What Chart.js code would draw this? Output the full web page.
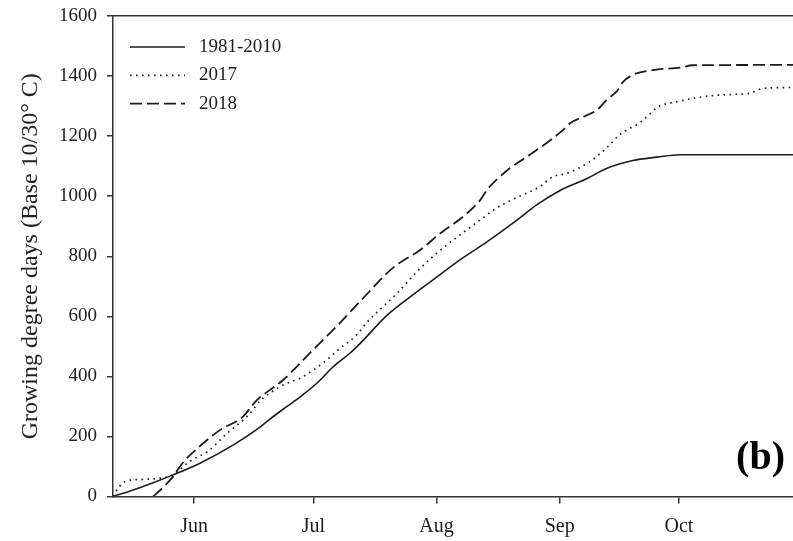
<!DOCTYPE html>
<html>
<head>
<meta charset="utf-8">
<script src="https://cdn.jsdelivr.net/npm/chart.js@4/dist/chart.umd.min.js"></script>
<style>
  html, body { margin: 0; padding: 0; background: #fff; }
  #wrap { width: 793px; height: 541px; position: relative; }
</style>
</head>
<body>
<div id="wrap"><canvas id="gdd" width="793" height="541"></canvas></div>
<script>
// Day of year (non-leap) and cumulative growing degree days for each series
const normalDays = [131.6, 136.7, 141.7, 146.7, 153.5, 161.8, 168.6, 171.1, 175.4, 178.7, 182.9, 187.0, 191.2, 193.8, 200.6, 206.3, 213.1, 218.9, 225.7, 232.3, 238.3, 244.1, 250.9, 255.9, 262.4, 268.5, 274.3, 302.7];
const normalGdd  = [0, 22, 46, 72, 111, 171, 231, 258, 300, 332, 377, 432, 477, 510, 604, 664, 731, 788, 848, 911, 972, 1019, 1059, 1093, 1119, 1130, 1138, 1138];

const days2017 = [131.6, 132.9, 135.1, 140.9, 145.2, 146.7, 151.0, 155.3, 160.3, 166.1, 168.6, 174.4, 178.7, 182.0, 185.4, 188.7, 192.9, 195.5, 203.1, 208.1, 212.1, 217.2, 224.0, 228.0, 232.3, 239.0, 242.3, 245.8, 251.6, 255.9, 259.2, 264.2, 266.0, 268.5, 274.3, 281.8, 287.6, 291.9, 295.2, 302.7];
const gdd2017  = [0, 28, 52, 58, 65, 72, 118, 149, 210, 277, 318, 371, 394, 421, 455, 493, 538, 580, 677, 749, 799, 854, 921, 960, 990, 1032, 1065, 1076, 1115, 1162, 1206, 1245, 1265, 1295, 1317, 1334, 1339, 1343, 1359, 1362];

const days2018 = [141.7, 144.2, 146.7, 149.0, 152.8, 158.5, 164.3, 167.8, 171.1, 174.4, 177.8, 181.9, 186.1, 188.2, 193.8, 202.1, 208.9, 213.9, 219.7, 224.0, 225.7, 230.7, 235.8, 240.8, 244.8, 246.6, 250.9, 253.4, 255.9, 258.4, 259.9, 262.4, 267.5, 274.3, 277.5, 302.7];
const gdd2018  = [0, 30, 66, 110, 160, 221, 266, 321, 355, 388, 432, 488, 543, 571, 650, 762, 821, 876, 932, 987, 1021, 1085, 1132, 1178, 1220, 1243, 1270, 1287, 1322, 1350, 1380, 1404, 1420, 1428, 1436, 1437];

// First day of each month shown on the x axis
const monthTickDays   = [152, 182, 213, 244, 274];
const monthTickLabels = ['Jun', 'Jul', 'Aug', 'Sep', 'Oct'];

const seriesLabels = ['1981-2010', '2017', '2018'];
const yTicks = [0, 200, 400, 600, 800, 1000, 1200, 1400, 1600];

const INK = '#1c1c1c';
const SERIF = '"Liberation Serif", "Times New Roman", serif';

const toPoints = (xs, ys) => xs.map((x, i) => ({ x: x, y: ys[i] }));

// In-plot legend: line samples stacked at the upper left of the plot
const insetLegend = {
  id: 'insetLegend',
  afterDatasetsDraw(chart) {
    const { ctx, chartArea } = chart;
    ctx.save();
    chart.data.datasets.forEach((ds, i) => {
      const y = chartArea.top + 31 + i * 28.3;
      const x0 = chartArea.left + 17;
      ctx.beginPath();
      ctx.setLineDash(ds.borderDash || []);
      ctx.strokeStyle = ds.borderColor;
      ctx.lineWidth = ds.borderWidth;
      ctx.moveTo(x0, y);
      ctx.lineTo(x0 + 55, y);
      ctx.stroke();
      ctx.setLineDash([]);
      ctx.fillStyle = INK;
      ctx.font = '19px ' + SERIF;
      ctx.textAlign = 'left';
      ctx.textBaseline = 'middle';
      ctx.fillText(ds.label, x0 + 69, y);
    });
    // panel letter
    ctx.font = 'bold 40px ' + SERIF;
    ctx.textAlign = 'right';
    ctx.textBaseline = 'middle';
    ctx.fillStyle = '#000';
    ctx.fillText('(b)', chartArea.right - 8, chartArea.bottom - 38);
    ctx.restore();
  }
};

new Chart(document.getElementById('gdd'), {
  type: 'line',
  data: {
    datasets: [
      {
        label: seriesLabels[0],
        data: toPoints(normalDays, normalGdd),
        borderColor: INK, borderWidth: 1.6, borderDash: [],
      },
      {
        label: seriesLabels[1],
        data: toPoints(days2017, gdd2017),
        borderColor: INK, borderWidth: 1.7, borderDash: [1.6, 4.4],
      },
      {
        label: seriesLabels[2],
        data: toPoints(days2018, gdd2018),
        borderColor: INK, borderWidth: 1.8, borderDash: [12, 5],
      }
    ]
  },
  options: {
    responsive: false,
    animation: false,
    events: [],
    layout: { padding: { top: 16, right: 0, bottom: 0, left: 0 } },
    elements: {
      point: { radius: 0 },
      line: { cubicInterpolationMode: 'monotone', fill: false }
    },
    plugins: {
      legend: { display: false },
      tooltip: { enabled: false }
    },
    scales: {
      x: {
        type: 'linear',
        position: 'bottom',
        min: 131.6,
        max: 302.7,
        afterBuildTicks: (s) => { s.ticks = monthTickDays.map(v => ({ value: v })); },
        afterFit: (s) => { s.height = 44.5; s.paddingLeft = 0; s.paddingRight = 0; },
        ticks: {
          autoSkip: false,
          maxRotation: 0,
          padding: 11,
          color: INK,
          font: { family: SERIF, size: 20 },
          callback: (v) => monthTickLabels[monthTickDays.indexOf(v)]
        },
        grid: { drawOnChartArea: false, drawTicks: true, tickLength: 7, color: '#333', lineWidth: 1.5 },
        border: { display: true, color: '#333', width: 1.5 }
      },
      xTop: {
        type: 'linear',
        position: 'top',
        min: 131.6,
        max: 302.7,
        afterFit: (s) => { s.height = 0; s.paddingLeft = 0; s.paddingRight = 0; },
        ticks: { display: false },
        grid: { drawOnChartArea: false, drawTicks: false },
        border: { display: true, color: '#333', width: 1.5 }
      },
      y: {
        min: 0,
        max: 1600,
        afterBuildTicks: (s) => { s.ticks = yTicks.map(v => ({ value: v })); },
        afterFit: (s) => { s.width = 113; s.paddingTop = 0; s.paddingBottom = 0; },
        ticks: {
          padding: 10,
          color: INK,
          font: { family: SERIF, size: 19 },
          callback: (v) => String(v)
        },
        grid: { drawOnChartArea: false, drawTicks: true, tickLength: 6, color: '#333', lineWidth: 1.5 },
        border: { display: true, color: '#333', width: 1.5 },
        title: {
          display: true,
          text: 'Growing degree days (Base 10/30\u00B0 C)',
          color: '#222',
          font: { family: SERIF, size: 24 },
          padding: { top: 16, bottom: 0 }
        }
      }
    }
  },
  plugins: [insetLegend]
});
</script>
</body>
</html>
